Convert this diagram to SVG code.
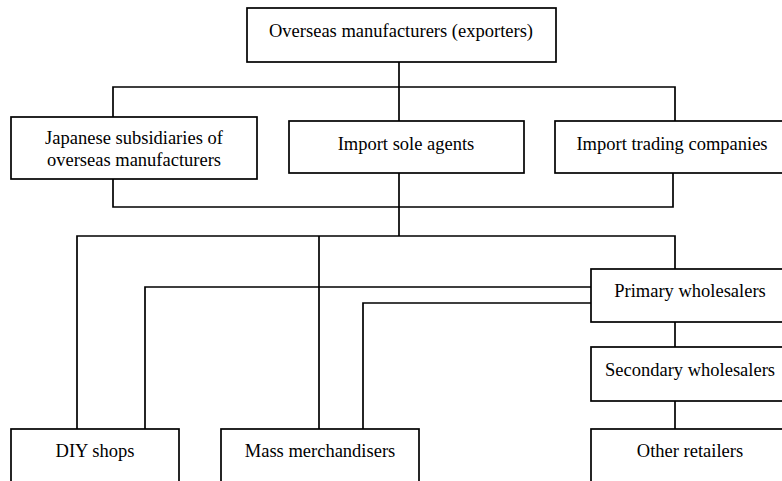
<svg xmlns="http://www.w3.org/2000/svg" width="782" height="481" viewBox="0 0 782 481">
<style>
rect{fill:#fff;stroke:#000;stroke-width:1.7}
.c path{fill:none;stroke:#000;stroke-width:1.7}
text{font-family:"Liberation Serif","Times New Roman",serif;font-size:18.5px;fill:#000;text-anchor:middle}
</style>
<rect x="0" y="0" width="782" height="481" style="stroke:none"/>
<g class="c" id="connectors">
<path d="M399 62V121"/>
<path d="M113 117V87H675V121"/>
<path d="M113 179V207H673V173"/>
<path d="M399 173V236"/>
<path d="M77 429V236H675V269"/>
<path d="M319 236V429"/>
<path d="M145 429V287H591"/>
<path d="M363 429V303H591"/>
<path d="M675 322V347"/>
<path d="M675 401V429"/>
</g>
<g id="n-overseas"><rect x="247" y="8" width="309" height="54"/><text x="401" y="37">Overseas manufacturers (exporters)</text></g>
<g id="n-japanese"><rect x="11" y="117" width="246" height="62"/><text x="134" y="144">Japanese subsidiaries of</text><text x="134" y="166">overseas manufacturers</text></g>
<g id="n-sole"><rect x="289" y="121" width="235" height="52"/><text x="406" y="150">Import sole agents</text></g>
<g id="n-trading"><rect x="555" y="121" width="234" height="52"/><text x="672" y="150">Import trading companies</text></g>
<g id="n-primary"><rect x="591" y="269" width="198" height="53"/><text x="690" y="297">Primary wholesalers</text></g>
<g id="n-secondary"><rect x="591" y="347" width="198" height="54"/><text x="690" y="376">Secondary wholesalers</text></g>
<g id="n-diy"><rect x="11" y="429" width="168" height="60"/><text x="95" y="457">DIY shops</text></g>
<g id="n-mass"><rect x="221" y="429" width="198" height="60"/><text x="320" y="457">Mass merchandisers</text></g>
<g id="n-other"><rect x="591" y="429" width="198" height="60"/><text x="690" y="457">Other retailers</text></g>
</svg>
